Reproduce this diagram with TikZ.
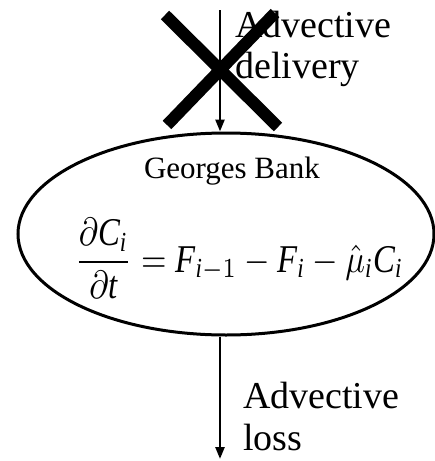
\documentclass[tikz,border=0pt]{standalone}
\usepackage{fontspec}
\setmainfont{Liberation Serif}
\usepackage{graphicx}
\usetikzlibrary{arrows.meta,shapes.geometric}
\newcommand{\vi}[1]{\mathit{#1}}
\tikzset{
  flow/.style={line width=2.5pt,-{Triangle[length=12pt,width=9pt]}},
  biglabel/.style={font=\fontsize{38}{41}\selectfont,align=left,anchor=base west,inner sep=0pt},
  cross/.style={line width=12pt},
}
\begin{document}
\begin{tikzpicture}[x=1pt,y=-1pt]
\useasboundingbox (0,0) rectangle (435,461);
\node[draw,ellipse,line width=3pt,minimum width=416pt,minimum height=202pt,inner sep=0pt] (gb) at (226,234) {};
\node[font=\fontsize{31}{33}\selectfont,anchor=base,inner sep=0pt] (title) at (232,178) {Georges Bank};
\node[anchor=base,inner sep=0pt] (eq) at (239,272) {\scalebox{1}[1.2]{\resizebox{328pt}{!}{$\displaystyle\frac{\partial \vi{C}_{\vi{i}}}{\partial \vi{t}}=\vi{F}_{\vi{i}-1}-\vi{F}_{\vi{i}}-\hat{\mu}_{\vi{i}}\vi{C}_{\vi{i}}$}}};
\coordinate (topstart) at (220,10);
\draw[flow] (topstart) -- (gb.north -| topstart);
\coordinate (botend) at (220,459);
\draw[flow] (gb.south -| botend) -- (botend);
\node[biglabel] (adv1) at (235,37) {Advective};
\node[biglabel] (del) at (235,78) {delivery};
\node[biglabel] (adv2) at (243,408) {Advective};
\node[biglabel] (loss) at (243,450) {loss};
\coordinate (x1a) at (165,15);
\coordinate (x1b) at (278,127);
\coordinate (x2a) at (275,13);
\coordinate (x2b) at (167,125);
\draw[cross] (x1a) -- (x1b);
\draw[cross] (x2a) -- (x2b);
\end{tikzpicture}
\end{document}
